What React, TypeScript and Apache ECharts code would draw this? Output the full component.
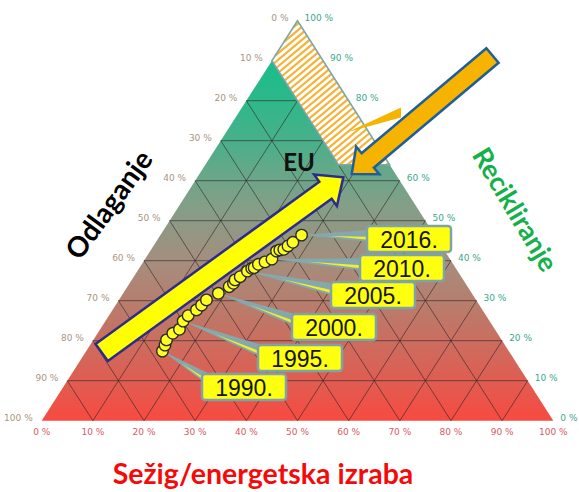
import React, { useEffect, useRef } from "react";
import * as echarts from "echarts";

// ---- Data ----
const YEARS = [1990, 1991, 1992, 1993, 1994, 1995, 1996, 1997, 1998, 1999, 2000, 2001, 2002, 2003, 2004, 2005, 2006, 2007, 2008, 2009, 2010, 2011, 2012, 2013, 2014, 2015, 2016];
// recycling share (%)
const RECYCLING = [17.4, 18.9, 20.2, 21.85, 22.85, 24.9, 26.25, 27.7, 28.9, 30.2, 31.85, 33.5, 34.35, 35.2, 36.0, 37.4, 38.1, 38.25, 39.1, 39.7, 40.4, 42.4, 42.7, 42.85, 43.7, 44.6, 46.4];
// incineration / energy recovery share (%)
const INCINERATION = [14.9, 14.65, 14.3, 14.7, 15.5, 15.2, 15.5, 16.4, 16.8, 17.1, 18.6, 19.9, 20.3, 20.2, 20.8, 21.5, 22.0, 22.4, 22.8, 23.8, 24.8, 24.7, 25.2, 25.9, 26.3, 26.8, 27.6];
const LABELLED_YEARS = [1990, 1995, 2000, 2005, 2010, 2016];
const TICKS = [0, 10, 20, 30, 40, 50, 60, 70, 80, 90, 100];
const TARGET_RECYCLING = 64;
const TARGET_LANDFILL = 10;
const NAME_LEFT = "Odlaganje";
const NAME_RIGHT = "Recikliranje";
const NAME_BOTTOM = "Sežig/energetska izraba";
const EU_TEXT = "EU";

// ---- Layout (pixels) ----
const LABEL_BOX: Record<number, [number, number]> = {
  1990: [202, 374],
  1995: [258, 345],
  2000: [292, 314],
  2005: [331, 282],
  2010: [360, 255],
  2016: [367, 226],
};
const BOX_W = 84;
const BOX_H = 26;

// ternary (incineration, recycling) -> chart (x, y)
const toXY = (inc: number, rec: number): [number, number] => [inc + rec / 2, rec];

type Pt = [number, number];

function arrowPoints(T: Pt, P: Pt, w: number, L: number, H: number): Pt[] {
  const dx = P[0] - T[0];
  const dy = P[1] - T[1];
  const len = Math.hypot(dx, dy);
  const u = [dx / len, dy / len];
  const n = [-u[1], u[0]];
  const B = [P[0] - L * u[0], P[1] - L * u[1]];
  return [
    [T[0] + w * n[0], T[1] + w * n[1]],
    [B[0] + w * n[0], B[1] + w * n[1]],
    [B[0] + H * n[0], B[1] + H * n[1]],
    [P[0], P[1]],
    [B[0] - H * n[0], B[1] - H * n[1]],
    [B[0] - w * n[0], B[1] - w * n[1]],
    [T[0] - w * n[0], T[1] - w * n[1]],
  ];
}

function stripes(poly: number[][], angleDeg: number, step: number): number[][][] {
  const a = (angleDeg * Math.PI) / 180;
  const n = [Math.sin(a), Math.cos(a)];
  const proj = poly.map((p) => p[0] * n[0] + p[1] * n[1]);
  const lo = Math.min(...proj);
  const hi = Math.max(...proj);
  const out: number[][][] = [];
  for (let s = lo + step / 2; s < hi; s += step) {
    const hits: number[][] = [];
    for (let i = 0; i < poly.length; i++) {
      const A = poly[i];
      const B = poly[(i + 1) % poly.length];
      const fa = proj[i] - s;
      const fb = proj[(i + 1) % poly.length] - s;
      if ((fa <= 0 && fb > 0) || (fa > 0 && fb <= 0)) {
        const t = fa / (fa - fb);
        hits.push([A[0] + (B[0] - A[0]) * t, A[1] + (B[1] - A[1]) * t]);
      }
    }
    if (hits.length >= 2) out.push([hits[0], hits[1]]);
  }
  return out;
}

export default function App() {
  const ref = useRef<HTMLDivElement>(null);

  useEffect(() => {
    if (!ref.current) return;
    document.body.style.margin = "0";
    const chart = echarts.init(ref.current, undefined, { renderer: "svg" });

    const points = YEARS.map((y, i) => toXY(INCINERATION[i], RECYCLING[i]));
    const steps = TICKS.slice(1, -1);
    const band: Pt[] = [
      toXY(0, 100),
      toXY(0, 100 - TARGET_LANDFILL),
      toXY(100 - TARGET_LANDFILL - TARGET_RECYCLING, TARGET_RECYCLING),
      toXY(100 - TARGET_RECYCLING, TARGET_RECYCLING),
    ];
    const tickFont = '9px "DejaVu Sans", sans-serif';

    const option: any = {
      animation: false,
      grid: { left: 41.7, right: 25.7, top: 20.7, bottom: 71.3 },
      xAxis: {
        type: "value",
        min: 0,
        max: 100,
        interval: 10,
        axisLine: { show: false },
        axisTick: { show: false },
        splitLine: { show: false },
        axisLabel: {
          formatter: "{value} %",
          color: "#d65a68",
          fontSize: 9,
          fontFamily: "DejaVu Sans",
          margin: 7,
        },
      },
      yAxis: {
        type: "value",
        min: 0,
        max: 100,
        show: false,
      },
      series: [
        {
          type: "custom",
          z: 1,
          data: [[50, 50]],
          renderItem: (params: any, api: any) => {
            const pts = [toXY(0, 0), toXY(100, 0), toXY(0, 100)].map((p) => api.coord(p));
            return {
              type: "polygon",
              shape: { points: pts },
              style: {
                fill: new echarts.graphic.LinearGradient(0, 0, 0, 1, [
                  { offset: 0, color: "#12c48c" },
                  { offset: 0.15, color: "#22bb8a" },
                  { offset: 0.3, color: "#48b08a" },
                  { offset: 0.45, color: "#80a088" },
                  { offset: 0.6, color: "#a48e7e" },
                  { offset: 0.75, color: "#c07666" },
                  { offset: 0.9, color: "#df5d52" },
                  { offset: 1, color: "#f84a40" },
                ]),
              },
            };
          },
        },
        {
          type: "custom",
          z: 2,
          data: steps.map((k) => [k, 0]),
          renderItem: (params: any, api: any) => {
            const k = api.value(0);
            const segs = [
              [toXY(0, k), toXY(100 - k, k)],
              [toXY(k, 0), toXY(k, 100 - k)],
              [toXY(0, k), toXY(k, 0)],
            ];
            return {
              type: "group",
              children: segs.map((s) => {
                const a = api.coord(s[0]);
                const b = api.coord(s[1]);
                return {
                  type: "line",
                  shape: { x1: a[0], y1: a[1], x2: b[0], y2: b[1] },
                  style: { stroke: "#2b2323", lineWidth: 0.75, opacity: 0.8 },
                };
              }),
            };
          },
        },
        {
          type: "custom",
          z: 3,
          data: [[50, 90]],
          renderItem: (params: any, api: any) => {
            const poly = band.map((p) => api.coord(p));
            const lines = stripes(poly, 40, 5);
            return {
              type: "group",
              children: [
                { type: "polygon", shape: { points: poly }, style: { fill: "#ffffff" } },
                ...lines.map((l) => ({
                  type: "line",
                  shape: { x1: l[0][0], y1: l[0][1], x2: l[1][0], y2: l[1][1] },
                  style: { stroke: "#f6b236", lineWidth: 2.2 },
                })),
                {
                  type: "polygon",
                  shape: { points: poly },
                  style: { fill: "none", stroke: "#7fa6a8", lineWidth: 1.6 },
                },
              ],
            };
          },
        },
        {
          type: "custom",
          z: 3,
          data: TICKS.map((t) => [t, 0]),
          renderItem: (params: any, api: any) => {
            const h = api.value(0);
            const L = api.coord(toXY(0, h));
            const R = api.coord(toXY(100 - h, h));
            return {
              type: "group",
              children: [
                {
                  type: "text",
                  x: L[0] - 9,
                  y: L[1] - 3,
                  style: {
                    text: `${100 - h} %`,
                    fill: "#a8957f",
                    font: tickFont,
                    align: "right",
                    textAlign: "right",
                    verticalAlign: "middle",
                    textVerticalAlign: "middle",
                  },
                },
                {
                  type: "text",
                  x: R[0] + 7,
                  y: R[1] - 3,
                  style: {
                    text: `${h} %`,
                    fill: "#3aa88c",
                    font: tickFont,
                    align: "left",
                    textAlign: "left",
                    verticalAlign: "middle",
                    textVerticalAlign: "middle",
                  },
                },
              ],
            };
          },
        },
        {
          type: "custom",
          z: 4,
          data: LABELLED_YEARS.map((y) => {
            const i = YEARS.indexOf(y);
            const p = points[i];
            return [p[0], p[1], y];
          }),
          encode: { x: 0, y: 1 },
          renderItem: (params: any, api: any) => {
            const p = api.coord([api.value(0), api.value(1)]);
            const year = api.value(2);
            const [bx, by] = LABEL_BOX[year];
            const ex = bx + 14;
            const mid = [p[0] + (ex - p[0]) * 0.35, p[1] + (by + 12 - p[1]) * 0.35];
            return {
              type: "group",
              children: [
                {
                  type: "polygon",
                  shape: { points: [p, [ex, by + 3], [ex, by + 17]] },
                  style: { fill: "#84a8ac" },
                },
                {
                  type: "polygon",
                  shape: { points: [mid, [ex, by + 11], [ex, by + 15]] },
                  style: { fill: "#f2ee2a" },
                },
                {
                  type: "rect",
                  shape: { x: bx, y: by, width: BOX_W, height: BOX_H, r: 3 },
                  style: { fill: "#ffff10", stroke: "#7fa3a8", lineWidth: 2.5 },
                },
                {
                  type: "text",
                  x: bx + BOX_W / 2,
                  y: by + BOX_H / 2 + 1,
                  style: {
                    text: `${year}.`,
                    fill: "#151515",
                    font: '23px "Liberation Sans", sans-serif',
                    align: "center",
                    textAlign: "center",
                    verticalAlign: "middle",
                    textVerticalAlign: "middle",
                  },
                },
              ],
            };
          },
        },
        {
          type: "scatter",
          z: 6,
          data: points,
          symbolSize: 11.5,
          itemStyle: { color: "#ffff22", borderColor: "#2a2a2a", borderWidth: 1.3, opacity: 1 },
        },
      ],
      graphic: [
        {
          type: "polygon",
          z: 100,
          shape: { points: [[348, 132], [401, 107.5], [401, 117.5]] },
          style: { fill: "#f6b400" },
        },
        {
          type: "polygon",
          z: 100,
          shape: { points: arrowPoints([101.7, 352.5], [343.3, 177.3], 10.5, 22, 19.5) },
          style: { fill: "#ffff00", stroke: "#2b2b90", lineWidth: 2.5, lineJoin: "miter" },
        },
        {
          type: "polygon",
          z: 100,
          shape: { points: arrowPoints([492.5, 55.5], [351.7, 174], 9.5, 21, 18) },
          style: { fill: "#f6b400", stroke: "#1f5f99", lineWidth: 2.5, lineJoin: "miter" },
        },
        {
          type: "text",
          z: 100,
          x: 299,
          y: 161,
          style: {
            text: EU_TEXT,
            fill: "#111111",
            font: 'bold 24px Lato, "Liberation Sans", sans-serif',
            align: "center",
            textAlign: "center",
            verticalAlign: "middle",
            textVerticalAlign: "middle",
          },
        },
        {
          type: "text",
          z: 100,
          x: 108,
          y: 204,
          rotation: (54 * Math.PI) / 180,
          style: {
            text: NAME_LEFT,
            fill: "#000000",
            font: 'bold 28px Lato, "Liberation Sans", sans-serif',
            align: "center",
            textAlign: "center",
            verticalAlign: "middle",
            textVerticalAlign: "middle",
          },
        },
        {
          type: "text",
          z: 100,
          x: 516,
          y: 209,
          rotation: (-59 * Math.PI) / 180,
          style: {
            text: NAME_RIGHT,
            fill: "#14b04a",
            font: 'bold 27px Lato, "Liberation Sans", sans-serif',
            align: "center",
            textAlign: "center",
            verticalAlign: "middle",
            textVerticalAlign: "middle",
          },
        },
        {
          type: "text",
          z: 100,
          x: 263,
          y: 473,
          style: {
            text: NAME_BOTTOM,
            fill: "#f50a0a",
            font: 'bold 28.5px Lato, "Liberation Sans", sans-serif',
            align: "center",
            textAlign: "center",
            verticalAlign: "middle",
            textVerticalAlign: "middle",
          },
        },
      ],
    };

    chart.setOption(option);
    return () => chart.dispose();
  }, []);

  return (
    <div
      ref={ref}
      style={{ position: "absolute", left: 0, top: 0, width: 579, height: 492, background: "#ffffff" }}
    />
  );
}
